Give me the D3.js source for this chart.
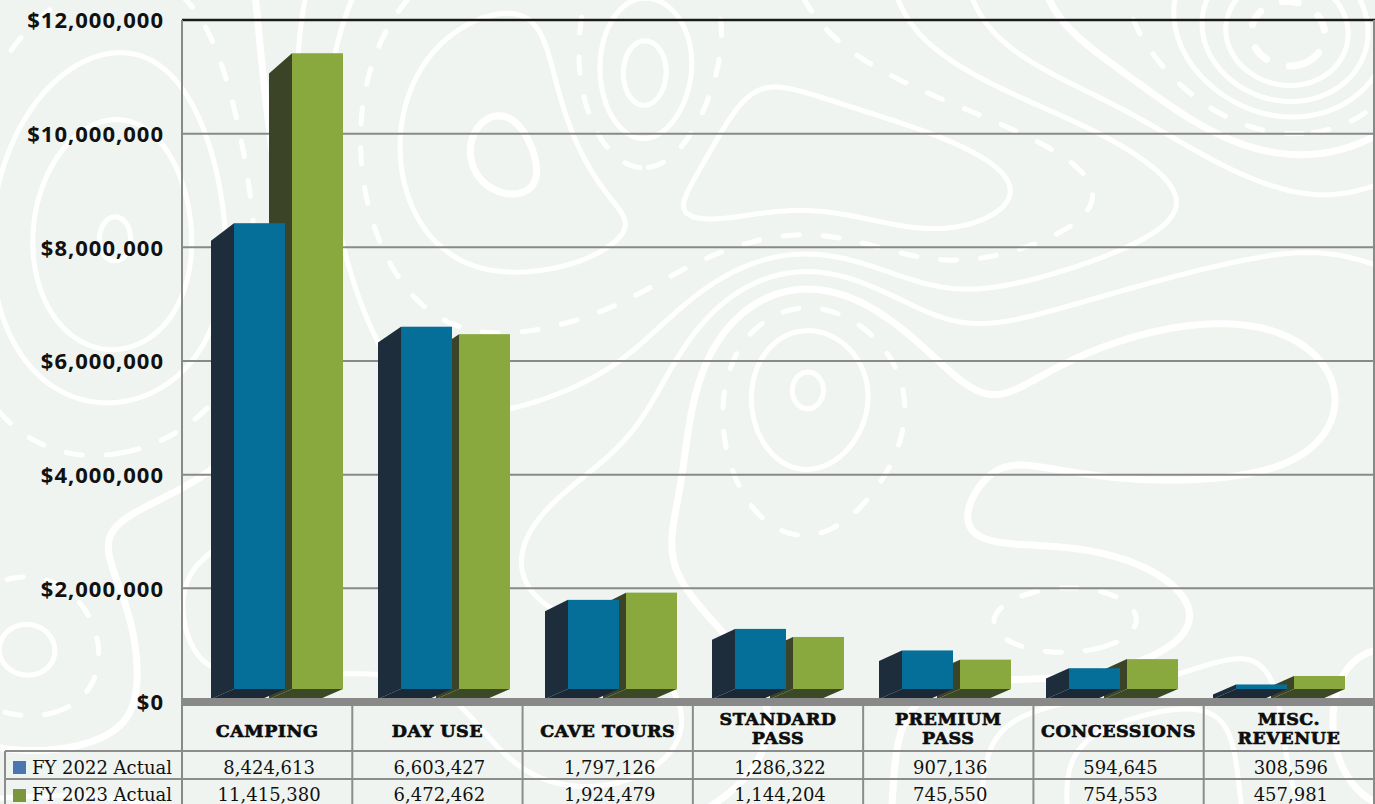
<!DOCTYPE html>
<html>
<head>
<meta charset="utf-8">
<script src="https://cdn.jsdelivr.net/npm/d3@7"></script>
<style>
  html, body { margin: 0; padding: 0; background: #eff4f0; }
  svg { display: block; }
  .ylab { font-family: "Open Sans", Lato, sans-serif; font-weight: 700; font-size: 22px; letter-spacing: 1px; fill: #111; }
</style>
</head>
<body>
<svg id="chart" width="1375" height="804"></svg>
<script>
// ---- data ----
const categories = ["CAMPING", "DAY USE", "CAVE TOURS", "STANDARD PASS", "PREMIUM PASS", "CONCESSIONS", "MISC. REVENUE"];
const categoryLines = [["CAMPING"], ["DAY USE"], ["CAVE TOURS"], ["STANDARD", "PASS"], ["PREMIUM", "PASS"], ["CONCESSIONS"], ["MISC.", "REVENUE"]];
const seriesNames = ["FY 2022 Actual", "FY 2023 Actual"];
const fy2022 = [8424613, 6603427, 1797126, 1286322, 907136, 594645, 308596];
const fy2023 = [11415380, 6472462, 1924479, 1144204, 745550, 754553, 457981];
const yTicks = [0, 2000000, 4000000, 6000000, 8000000, 10000000, 12000000];

// ---- layout ----
const W = 1375, H = 804;
const plot = { left: 182, right: 1374, top: 20, zero: 702 };
const table = { top: 706, row1: 751, row2: 779, bottom: 807, legendLeft: 5 };

const svg = d3.select("#chart");

// ---- topographic backdrop ----
const terrainBumps = [
  [1290, 40, 70, 62, 1.7], [640, 85, 48, 72, 1.3], [800, 360, 72, 92, 1.4],
  [1095, 625, 95, 48, 1.1], [30, 650, 75, 65, 1.1], [960, 190, 230, 80, -1.3],
  [420, 130, 130, 160, -1.1], [1240, 430, 160, 120, 0.9], [250, 770, 160, 80, 0.9],
  [620, 730, 120, 90, -0.9], [120, 250, 110, 140, 1.0], [1360, 720, 90, 110, 1.0]
];
function terrain(px, py) {
  let v = 0.45 * Math.sin((px + 0.6 * py) / 150) + 0.35 * Math.cos((px - 0.9 * py) / 210);
  for (const [cx, cy, sx, sy, h] of terrainBumps) {
    const dx = (px - cx) / sx, dy = (py - cy) / sy;
    v += h * Math.exp(-0.5 * (dx * dx + dy * dy));
  }
  return v;
}
const cell = 5, pad = 40;
const nx = Math.ceil((W + 2 * pad) / cell) + 1, ny = Math.ceil((H + 2 * pad) / cell) + 1;
const field = new Float64Array(nx * ny);
for (let j = 0; j < ny; j++) for (let i = 0; i < nx; i++) field[j * nx + i] = terrain(i * cell - pad, j * cell - pad);
const levels = d3.range(-2.4, 2.6, 0.34);
const contours = d3.contours().size([nx, ny]).thresholds(levels)(field);
const topoPath = d3.geoPath(d3.geoIdentity().scale(cell));
svg.append("g")
  .attr("transform", `translate(${-pad},${-pad})`)
  .selectAll("path").data(contours).join("path")
  .attr("d", topoPath)
  .attr("fill", "none")
  .attr("stroke", "#ffffff")
  .attr("stroke-width", (d, i) => i % 5 === 3 ? 7 : 5)
  .attr("stroke-linejoin", "round")
  .attr("stroke-linecap", "round")
  .attr("stroke-dasharray", (d, i) => i % 4 === 1 ? "16 24" : null);

// ---- scales ----
const y = d3.scaleLinear().domain([0, 12000000]).range([plot.zero, plot.top]);
const xCol = d3.scaleBand().domain(categories).range([plot.left, plot.right]);
const xBar = d3.scaleBand().domain(categories).range([plot.left, plot.left + 167 * categories.length]);
const xSeries = d3.scaleBand().domain([0, 1]).range([52, 161]).paddingInner(7 / 58);

const series = [
  { name: seriesNames[0], values: fy2022, front: "#056f99", side: "#1e2d3c", bottom: "#1b2835", swatch: "#4a76b2" },
  { name: seriesNames[1], values: fy2023, front: "#89a93f", side: "#3b4427", bottom: "#3c4926", swatch: "#7b963d" }
];

// ---- grid ----
const grid = svg.append("g");
grid.selectAll("line").data(yTicks.filter(t => t > 0 && t < 12000000)).join("line")
  .attr("x1", plot.left).attr("x2", plot.right)
  .attr("y1", d => y(d)).attr("y2", d => y(d))
  .attr("stroke", "#898989").attr("stroke-width", 2);
grid.append("line")
  .attr("x1", plot.left).attr("x2", W)
  .attr("y1", y(12000000)).attr("y2", y(12000000))
  .attr("stroke", "#1a1a1a").attr("stroke-width", 2.6);
grid.append("line")
  .attr("x1", plot.left).attr("x2", plot.left)
  .attr("y1", plot.top).attr("y2", table.bottom)
  .attr("stroke", "#898989").attr("stroke-width", 2);
grid.append("line")
  .attr("x1", plot.right).attr("x2", plot.right)
  .attr("y1", plot.top).attr("y2", table.bottom)
  .attr("stroke", "#898989").attr("stroke-width", 2);

// ---- y axis labels ----
const yAxis = d3.axisLeft(y).tickValues(yTicks).tickSize(0).tickPadding(0)
  .tickFormat(d => "$" + d3.format(",")(d));
const yg = svg.append("g").attr("transform", `translate(${164},0)`).call(yAxis);
yg.attr("font-family", null).attr("font-size", null);
yg.select(".domain").remove();
yg.selectAll("text")
  .attr("class", "ylab")
  .attr("fill", null)
  .attr("dy", "0.36em");

// ---- 3D bars: front face, left side face, bottom face ----
const depthX = 23;
const frontBase = 689;
const depthY = yy => 10 + (frontBase - yy) * 0.016;

const bars = svg.append("g");
categories.forEach((cat, ci) => {
  [1, 0].forEach(si => {
    const s = series[si];
    const v = s.values[ci];
    const fx = xBar(cat) + xSeries(si);
    const w = xSeries.bandwidth();
    const ft = y(v);
    const fb = frontBase;
    const g = bars.append("g");
    // left side
    g.append("path")
      .attr("d", d3.line()([[fx, ft], [fx, fb], [fx - depthX, fb + depthY(fb)], [fx - depthX, ft + depthY(ft)]]) + "Z")
      .attr("fill", s.side);
    // bottom
    g.append("path")
      .attr("d", d3.line()([[fx, fb], [fx + w, fb], [fx + w - depthX, fb + depthY(fb)], [fx - depthX, fb + depthY(fb)]]) + "Z")
      .attr("fill", s.bottom);
    // front
    g.append("rect")
      .attr("x", fx).attr("y", ft)
      .attr("width", w).attr("height", Math.max(0, fb - ft))
      .attr("fill", s.front);
  });
});

// ---- axis floor bar ----
svg.append("rect")
  .attr("x", plot.left).attr("y", 698)
  .attr("width", W - plot.left).attr("height", 8)
  .attr("fill", "#898989");

// ---- data table ----
const tbl = svg.append("g");
const lineColor = "#8c8c8c";
[table.row1, table.row2].forEach(yy => {
  tbl.append("line").attr("x1", table.legendLeft).attr("x2", plot.right)
    .attr("y1", yy).attr("y2", yy).attr("stroke", lineColor).attr("stroke-width", 2);
});
tbl.selectAll("line.col").data(categories.slice(1)).join("line")
  .attr("class", "col")
  .attr("x1", d => xCol(d)).attr("x2", d => xCol(d))
  .attr("y1", table.top).attr("y2", table.bottom)
  .attr("stroke", lineColor).attr("stroke-width", 2);
tbl.append("line").attr("x1", table.legendLeft).attr("x2", table.legendLeft)
  .attr("y1", table.row1).attr("y2", table.bottom)
  .attr("stroke", lineColor).attr("stroke-width", 2);

// category headers
categories.forEach((cat, ci) => {
  const lines = categoryLines[ci];
  const cx = xCol(cat) + xCol.bandwidth() / 2;
  const t = tbl.append("text")
    .attr("x", cx)
    .attr("text-anchor", "middle")
    .attr("font-family", "'DejaVu Serif', serif")
    .attr("font-weight", 700)
    .attr("font-size", 17.5)
    .attr("letter-spacing", "0.5px")
    .attr("fill", "#0d0d0d")
    .attr("stroke", "#0d0d0d")
    .attr("stroke-width", 0.7);
  const baselines = lines.length === 1 ? [737] : [725, 744];
  lines.forEach((ln, li) => {
    t.append("tspan").attr("x", cx).attr("y", baselines[li]).text(ln);
  });
});

// value rows + legend
const rowBaselines = [773.5, 801];
const rowTops = [table.row1, table.row2];
series.forEach((s, si) => {
  tbl.append("rect")
    .attr("x", 13).attr("y", rowTops[si] + 10)
    .attr("width", 13).attr("height", 13)
    .attr("fill", s.swatch);
  tbl.append("text")
    .attr("x", 32).attr("y", rowBaselines[si])
    .attr("font-family", "'DejaVu Serif', serif")
    .attr("font-size", 18)
    .attr("fill", "#111")
    .text(s.name);
  tbl.selectAll(null).data(s.values).join("text")
    .attr("x", (d, i) => xCol(categories[i]) + xCol.bandwidth() / 2 + 2)
    .attr("y", rowBaselines[si])
    .attr("text-anchor", "middle")
    .attr("font-family", "'DejaVu Serif', serif")
    .attr("font-size", 18)
    .attr("fill", "#111")
    .text(d => d3.format(",")(d));
});
</script>
</body>
</html>
